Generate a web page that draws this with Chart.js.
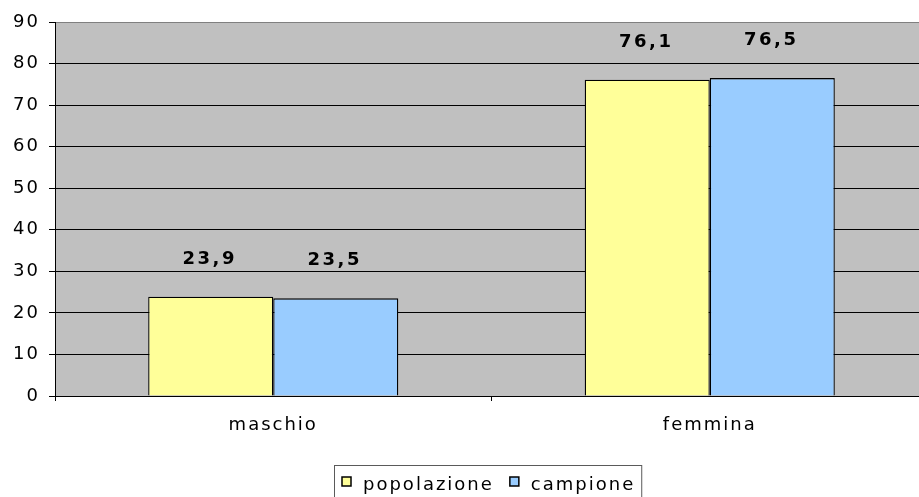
<!DOCTYPE html>
<html><head><meta charset="utf-8">
<script src="https://cdn.jsdelivr.net/npm/chart.js@4/dist/chart.umd.min.js"></script>
<style>
html,body{margin:0;padding:0;background:#fff;overflow:hidden;}
#wrap{position:relative;width:930px;height:497px;}
</style></head><body>
<div id="wrap"><canvas id="c"></canvas></div>
<script>
const categories = ['maschio', 'femmina'];
const seriesNames = ['popolazione', 'campione'];
const popolazione = [23.9, 76.1];
const campione = [23.5, 76.5];
const yMin = 0, yMax = 90, yStep = 10;

const FONT = '"DejaVu Sans", Verdana, sans-serif';

const bgPlugin = {
  id: 'bg',
  beforeDraw(chart) {
    const {ctx, chartArea: a} = chart;
    ctx.save();
    ctx.fillStyle = '#ffffff';
    ctx.fillRect(0, 0, chart.width, chart.height);
    ctx.fillStyle = '#C0C0C0';
    ctx.fillRect(a.left, a.top, a.right - a.left, a.bottom - a.top);
    ctx.restore();
    ctx.letterSpacing = '2px';
  }
};

const labelPlugin = {
  id: 'vals',
  afterDatasetsDraw(chart) {
    const ctx = chart.ctx;
    ctx.save();
    ctx.font = 'bold 18px ' + FONT;
    ctx.letterSpacing = '2.5px';
    ctx.fillStyle = '#000';
    ctx.textAlign = 'center';
    ctx.textBaseline = 'alphabetic';
    chart.data.datasets.forEach((ds, i) => {
      chart.getDatasetMeta(i).data.forEach((el, j) => {
        const t = ds.data[j].toFixed(1).replace('.', ',');
        ctx.fillText(t, el.x - 1, el.y - 33);
      });
    });
    ctx.restore();
  }
};

const legendPlugin = {
  id: 'legendBox',
  afterDraw(chart) {
    const ctx = chart.ctx;
    ctx.save();
    ctx.font = '18px ' + FONT;
    ctx.letterSpacing = '2px';
    const items = chart.data.datasets.map(d => ({label: d.label, color: d.backgroundColor}));
    const sq = 9, gap1 = 12, gap2 = 16, padL = 8, padR = 6;
    const widths = items.map(it => ctx.measureText(it.label).width);
    let total = padL + padR + gap2 * (items.length - 1);
    widths.forEach(w => total += sq + gap1 + w);
    const left = 334;
    const top = 465;
    ctx.strokeStyle = '#5a5a5a';
    ctx.lineWidth = 1;
    ctx.strokeRect(left + 0.5, top + 0.5, total, 45);
    let x = left + padL;
    ctx.textBaseline = 'alphabetic';
    ctx.textAlign = 'left';
    items.forEach((it, i) => {
      ctx.fillStyle = it.color;
      ctx.fillRect(x, 477, sq, sq);
      ctx.strokeStyle = '#000';
      ctx.lineWidth = 1.5;
      ctx.strokeRect(x, 477, sq, sq);
      x += sq + gap1;
      ctx.fillStyle = '#000';
      ctx.fillText(it.label, x, 490);
      x += widths[i] + gap2;
    });
    ctx.restore();
  }
};

new Chart(document.getElementById('c'), {
  type: 'bar',
  data: {
    labels: categories,
    datasets: [
      {label: seriesNames[0], data: popolazione, backgroundColor: '#FFFF99', borderColor: '#000', borderWidth: 1.3,
       categoryPercentage: 0.573, barPercentage: 1},
      {label: seriesNames[1], data: campione, backgroundColor: '#99CCFF', borderColor: '#000', borderWidth: 1.3,
       categoryPercentage: 0.573, barPercentage: 1}
    ]
  },
  options: {
    responsive: true,
    maintainAspectRatio: false,
    animation: false,
    layout: {padding: {top: 22, right: 2, left: 0, bottom: 0}},
    plugins: {legend: {display: false}, tooltip: {enabled: false}},
    scales: {
      x: {
        afterFit(s) { s.height = 101; },
        grid: {drawOnChartArea: false, tickLength: 5, color: '#000', lineWidth: 1, offset: true},
        border: {display: true, color: '#000', width: 1},
        ticks: {color: '#000', font: {family: FONT, size: 18}, padding: 14}
      },
      y: {
        min: yMin, max: yMax,
        afterFit(s) { s.width = 55; },
        ticks: {stepSize: yStep, color: '#000', font: {family: FONT, size: 18}, padding: 9},
        grid: {
          color: c => (c.tick && c.tick.value === yMax) ? '#808080' : '#000',
          tickColor: '#000', tickLength: 6, lineWidth: 1
        },
        border: {display: true, color: '#000', width: 1}
      }
    }
  },
  plugins: [bgPlugin, labelPlugin, legendPlugin]
});
</script>
</body></html>
